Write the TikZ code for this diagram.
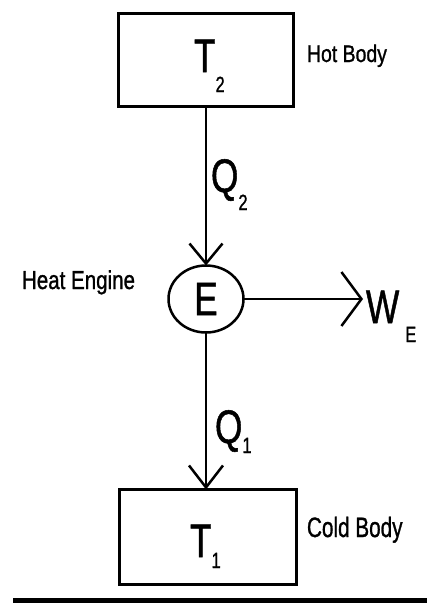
\documentclass[tikz,border=0pt]{standalone}
\usepackage{fontspec}
\setmainfont{Liberation Sans}
\newfontfamily\heavyfont[FakeBold=1.2]{Liberation Sans}
\usetikzlibrary{arrows.meta,shapes.geometric}
\newcommand{\bigsym}[3]{\scalebox{0.75}[1]{\heavyfont\fontsize{47}{47}\selectfont #1\raisebox{-#3pt}{\fontsize{22}{22}\selectfont #2}}}
\newcommand{\sidelabel}[3]{\scalebox{#2}[1]{\heavyfont\fontsize{#1}{#1}\selectfont #3}}
\begin{document}
\begin{tikzpicture}[x=1pt,y=-1pt,
  body/.style={draw, line width=3pt, inner sep=0pt, outer sep=0pt},
  engine/.style={ellipse, draw, line width=2.5pt, minimum width=75pt, minimum height=67pt, inner sep=0pt, outer sep=0pt},
  flow/.style={line width=2.5pt},
  sym/.style={inner sep=0pt, outer sep=0pt, anchor=base west},
  side/.style={inner sep=0pt, outer sep=0pt, anchor=base west}]
\useasboundingbox (0,0) rectangle (427,605);
\fill[white] (0,0) rectangle (427,605);
% bodies
\node[body, minimum width=175pt, minimum height=93pt] (hot) at (206,60) {};
\node[body, minimum width=177pt, minimum height=95pt] (cold) at (208,537) {};
% engine
\node[engine] (eng) at (206,299) {\scalebox{0.75}[1]{\heavyfont\fontsize{47}{47}\selectfont E}};
% symbols
\node[sym] (t2) at (194,72) {\bigsym{T}{2}{20}};
\node[sym] (q2) at (211,192) {\bigsym{Q}{2}{18}};
\node[sym] (q1) at (215,443) {\bigsym{Q}{1}{10}};
\node[sym] (t1) at (190,557) {\bigsym{T}{1}{11}};
\node[sym] (we) at (366,323) {\scalebox{0.75}[1]{\heavyfont\fontsize{47}{47}\selectfont W\kern8pt\raisebox{-19pt}{\fontsize{22}{22}\selectfont E}}};
% side labels
\node[side] (hotlbl) at (307,62) {\sidelabel{24}{0.81}{Hot Body}};
\node[side] (englbl) at (22,289) {\sidelabel{26}{0.79}{Heat Engine}};
\node[side] (coldlbl) at (307,537) {\sidelabel{28}{0.74}{Cold Body}};
% connectors
\draw[flow, -{Straight Barb[length=20pt,width=33pt]}] (hot.south) -- (eng.north);
\draw[flow, -{Straight Barb[length=22pt,width=34pt]}] (eng.south) -- (eng.south |- cold.north);
\draw[flow, -{Straight Barb[length=20pt,width=54pt]}] (eng.east) -- ([xshift=-3pt]eng.east -| we.west);
% bottom rule
\coordinate (ruleL) at (13,600);
\coordinate (ruleR) at (427,600);
\draw[line width=5pt] (ruleL) -- (ruleR);
\end{tikzpicture}
\end{document}
